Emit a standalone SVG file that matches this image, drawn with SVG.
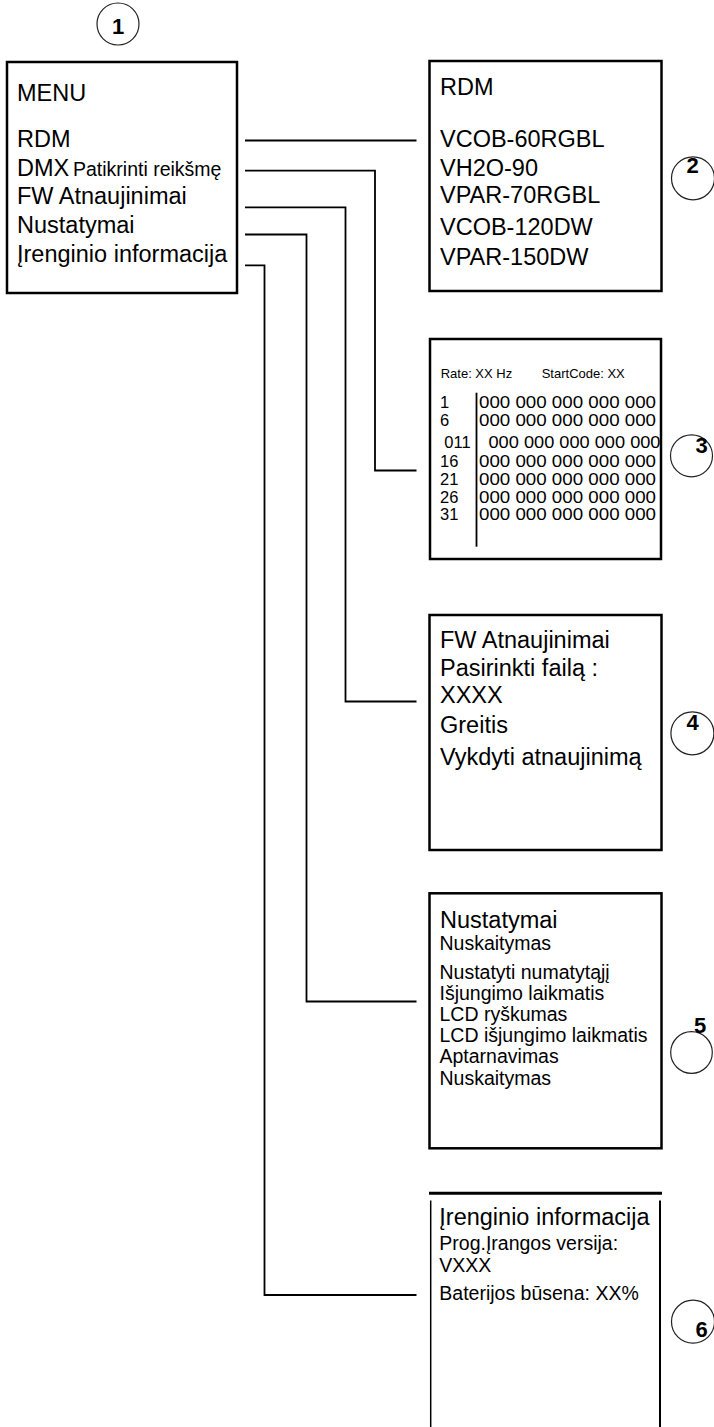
<svg xmlns="http://www.w3.org/2000/svg" width="714" height="1427" viewBox="0 0 714 1427">
<style>
text{font-family:"Liberation Sans",Arial,sans-serif;fill:#000}
.b{font-size:23.5px}
.s{font-size:19.5px}
.xs{font-size:13px}
.m{font-size:16.5px}
.num{font-size:22px;font-weight:bold;text-anchor:middle}
.box{fill:#fff;stroke:#000;stroke-width:2.5}
.circ{fill:none;stroke:#222;stroke-width:1.2}
.con{fill:none;stroke:#000;stroke-width:1.8}
</style>
<rect width="714" height="1427" fill="#fff"/>
<g id="connectors">
<polyline class="con" points="245,140.5 416.5,140.5"/>
<polyline class="con" points="245,170.7 375,170.7 375,470.5 416.5,470.5"/>
<polyline class="con" points="245,207.3 345.5,207.3 345.5,701.5 416.5,701.5"/>
<polyline class="con" points="245,234.5 306.5,234.5 306.5,1001.5 416.5,1001.5"/>
<polyline class="con" points="245,265.3 264.5,265.3 264.5,1295 416.5,1295"/>
</g>
<g id="node1">
<circle class="circ" cx="118" cy="24" r="21"/>
<text class="num" x="118" y="33.5">1</text>
<rect class="box" x="7" y="62" width="230" height="231" stroke-width="2"/>
<text class="b" x="17" y="101">MENU</text>
<text class="b" x="17" y="147">RDM</text>
<text x="17" y="176"><tspan class="b">DMX</tspan><tspan class="s" x="73">Patikrinti reikšmę</tspan></text>
<text class="b" x="17" y="204">FW Atnaujinimai</text>
<text class="b" x="17" y="233">Nustatymai</text>
<text class="b" x="17" y="262">Įrenginio informacija</text>
</g>
<g id="node2">
<rect class="box" x="429.5" y="61" width="232" height="230"/>
<text class="b" x="440" y="95">RDM</text>
<text class="b" x="440" y="146.7">VCOB-60RGBL</text>
<text class="b" x="440" y="176">VH2O-90</text>
<text class="b" x="440" y="202.5">VPAR-70RGBL</text>
<text class="b" x="440" y="235">VCOB-120DW</text>
<text class="b" x="440" y="265">VPAR-150DW</text>
<circle class="circ" cx="693" cy="178.3" r="21.5"/>
<text class="num" x="692.7" y="173">2</text>
</g>
<g id="node3">
<rect class="box" x="430" y="339" width="231" height="220"/>
<text class="xs" x="440.7" y="378.3">Rate: XX Hz</text>
<text class="xs" x="541.7" y="378.3">StartCode: XX</text>
<line x1="476.5" y1="392.7" x2="476.5" y2="546.7" stroke="#000" stroke-width="1.8"/>
<text class="m" x="440" y="408.3">1</text>
<text class="m" x="440" y="426">6</text>
<text class="m" x="444.3" y="448.3">011</text>
<text class="m" x="440" y="466.7">16</text>
<text class="m" x="440" y="485">21</text>
<text class="m" x="440" y="502.7">26</text>
<text class="m" x="440" y="520.3">31</text>
<text class="m" x="479" y="408.3" textLength="177" lengthAdjust="spacingAndGlyphs">000 000 000 000 000</text>
<text class="m" x="479" y="426" textLength="177" lengthAdjust="spacingAndGlyphs">000 000 000 000 000</text>
<text class="m" x="488.5" y="448.3" textLength="172" lengthAdjust="spacingAndGlyphs">000 000 000 000 000</text>
<text class="m" x="479" y="466.7" textLength="177" lengthAdjust="spacingAndGlyphs">000 000 000 000 000</text>
<text class="m" x="479" y="485" textLength="177" lengthAdjust="spacingAndGlyphs">000 000 000 000 000</text>
<text class="m" x="479" y="502.7" textLength="177" lengthAdjust="spacingAndGlyphs">000 000 000 000 000</text>
<text class="m" x="479" y="520.3" textLength="177" lengthAdjust="spacingAndGlyphs">000 000 000 000 000</text>
<circle class="circ" cx="691.5" cy="455.8" r="21"/>
<text class="num" x="701.7" y="453.3">3</text>
</g>
<g id="node4">
<rect class="box" x="429.5" y="615" width="232" height="235"/>
<text class="b" x="440" y="648.3">FW Atnaujinimai</text>
<text class="b" x="440" y="676">Pasirinkti failą :</text>
<text class="b" x="440" y="703.3">XXXX</text>
<text class="b" x="440" y="732.7">Greitis</text>
<text class="b" x="440" y="765">Vykdyti atnaujinimą</text>
<circle class="circ" cx="692.4" cy="733.3" r="21.5"/>
<text class="num" x="692.7" y="730">4</text>
</g>
<g id="node5">
<rect class="box" x="429.5" y="893.3" width="232" height="255"/>
<text class="b" x="440" y="928.3">Nustatymai</text>
<text class="s" x="439.5" y="950">Nuskaitymas</text>
<text class="s" x="439.5" y="979.3">Nustatyti numatytąjį</text>
<text class="s" x="439.5" y="1000">Išjungimo laikmatis</text>
<text class="s" x="439.5" y="1021">LCD ryškumas</text>
<text class="s" x="439.5" y="1042">LCD išjungimo laikmatis</text>
<text class="s" x="439.5" y="1063">Aptarnavimas</text>
<text class="s" x="439.5" y="1084.5">Nuskaitymas</text>
<circle class="circ" cx="691.5" cy="1052.5" r="20.8"/>
<text class="num" x="700" y="1033.3">5</text>
</g>
<g id="node6">
<line x1="429" y1="1193.3" x2="662" y2="1193.3" stroke="#000" stroke-width="3"/>
<line x1="430.7" y1="1200.5" x2="430.7" y2="1427" stroke="#000" stroke-width="1.5"/>
<line x1="660" y1="1200.5" x2="660" y2="1427" stroke="#000" stroke-width="2"/>
<text class="b" x="439.3" y="1225">Įrenginio informacija</text>
<text class="s" x="439.3" y="1250">Prog.Įrangos versija:</text>
<text class="s" x="439.3" y="1271.7">VXXX</text>
<text class="s" x="439.3" y="1300">Baterijos būsena: XX%</text>
<circle class="circ" cx="693" cy="1321.7" r="21.5"/>
<text class="num" x="701.7" y="1336.7">6</text>
</g>
</svg>
